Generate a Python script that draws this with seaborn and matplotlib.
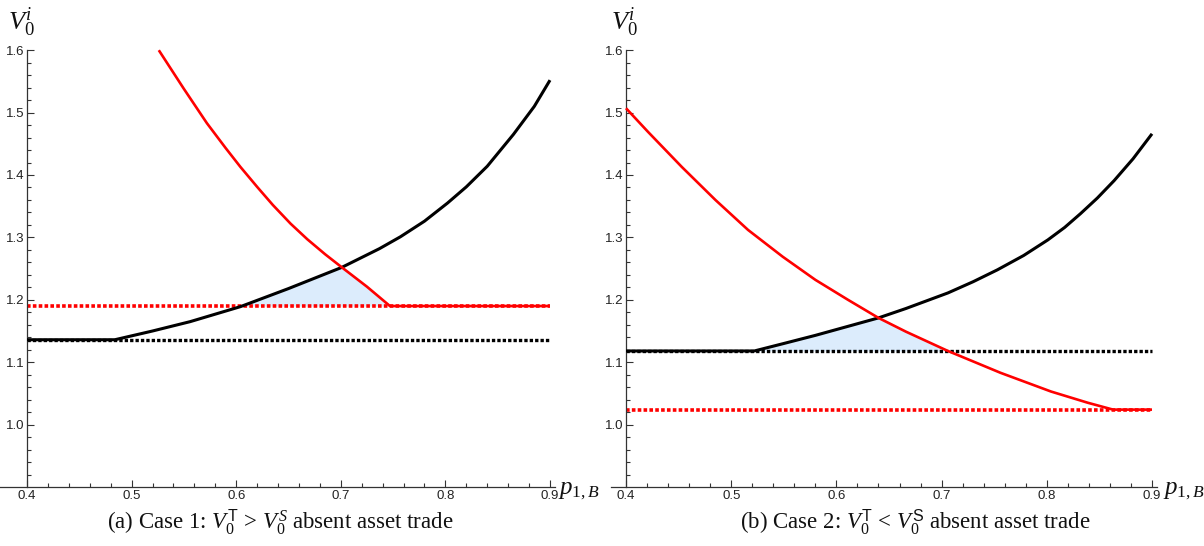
import numpy as np
import matplotlib
matplotlib.use("Agg")
import matplotlib.pyplot as plt
import seaborn as sns
from matplotlib.ticker import FixedLocator, NullFormatter

# ---- Case 1: V0^T > V0^S absent asset trade ----
c1_black_x = [0.400, 0.484, 0.520, 0.556, 0.604, 0.650, 0.701, 0.737, 0.757, 0.780,
              0.802, 0.820, 0.840, 0.865, 0.885, 0.900]
c1_black_y = [1.136, 1.136, 1.150, 1.165, 1.189, 1.218, 1.252, 1.282, 1.301, 1.326,
              1.355, 1.381, 1.414, 1.465, 1.510, 1.552]
c1_red_x = [0.526, 0.550, 0.572, 0.590, 0.604, 0.620, 0.635, 0.652, 0.668, 0.685,
            0.701, 0.725, 0.747, 0.900]
c1_red_y = [1.600, 1.538, 1.483, 1.443, 1.413, 1.381, 1.352, 1.322, 1.297, 1.273,
            1.252, 1.221, 1.190, 1.190]
c1_black_level = 1.136
c1_red_level = 1.190

# ---- Case 2: V0^T < V0^S absent asset trade ----
c2_black_x = [0.400, 0.522, 0.550, 0.580, 0.610, 0.640, 0.666, 0.706, 0.730, 0.753,
              0.778, 0.801, 0.817, 0.832, 0.848, 0.864, 0.882, 0.900]
c2_black_y = [1.118, 1.118, 1.130, 1.143, 1.157, 1.171, 1.186, 1.211, 1.229, 1.248,
              1.271, 1.296, 1.316, 1.338, 1.363, 1.391, 1.426, 1.466]
c2_red_x = [0.400, 0.421, 0.453, 0.485, 0.516, 0.549, 0.580, 0.611, 0.640, 0.666,
            0.706, 0.756, 0.804, 0.839, 0.863, 0.900]
c2_red_y = [1.507, 1.469, 1.413, 1.360, 1.312, 1.269, 1.232, 1.200, 1.171, 1.149,
            1.118, 1.083, 1.053, 1.035, 1.024, 1.024]
c2_black_level = 1.118
c2_red_level = 1.024

x_range = [0.4, 0.9]
x_ticks = [0.4, 0.5, 0.6, 0.7, 0.8, 0.9]
x_tick_labels = ["0.4", "0.5", "0.6", "0.7", "0.8", "0.9"]
y_ticks = [1.0, 1.1, 1.2, 1.3, 1.4, 1.5, 1.6]
y_tick_labels = ["1.0", "1.1", "1.2", "1.3", "1.4", "1.5", "1.6"]
captions = [r"(a) Case 1: $V_0^{\mathsf{T}}\, >\, V_0^{S}$ absent asset trade",
            r"(b) Case 2: $V_0^{\mathsf{T}}\, <\, V_0^{\mathsf{S}}$ absent asset trade"]

sns.set_theme(style="white")
plt.rcParams["font.family"] = ["Liberation Sans", "DejaVu Sans"]
plt.rcParams["mathtext.fontset"] = "custom"
plt.rcParams["mathtext.rm"] = "Liberation Serif"
plt.rcParams["mathtext.it"] = "Liberation Serif:italic"
plt.rcParams["mathtext.sf"] = "Liberation Sans"

W, H = 1204, 546
fig = plt.figure(figsize=(W / 100, H / 100), dpi=100)

RED = "#ff0000"
BLACK = "#000000"
FILL = "#dcecfc"
AXC = "#333333"
Y0, SY = 487, 624           # pixel row of y=0.9, pixels per unit
YLIM = (0.9, 1.61)


def make_axes(px0, sx, xlim):
    left = px0 + (xlim[0] - 0.4) * sx
    right = px0 + (xlim[1] - 0.4) * sx
    top = Y0 - (YLIM[1] - YLIM[0]) * SY
    ax = fig.add_axes([left / W, 1 - Y0 / H, (right - left) / W, (Y0 - top) / H])
    ax.set_xlim(*xlim)
    ax.set_ylim(*YLIM)
    ax.patch.set_alpha(0)
    for s in ("top", "right"):
        ax.spines[s].set_visible(False)
    ax.spines["left"].set_position(("data", 0.4))
    ax.spines["left"].set_bounds(0.9, 1.6)
    for s in ("left", "bottom"):
        ax.spines[s].set_color(AXC)
        ax.spines[s].set_linewidth(0.9)
    ax.xaxis.set_major_locator(FixedLocator(x_ticks))
    ax.set_xticklabels(x_tick_labels)
    ax.xaxis.set_minor_locator(FixedLocator(
        [round(v, 2) for v in np.arange(0.42, 0.9, 0.02) if round(v * 100) % 10]))
    ax.yaxis.set_major_locator(FixedLocator(y_ticks))
    ax.set_yticklabels(y_tick_labels)
    ax.yaxis.set_minor_locator(FixedLocator(
        [round(v, 2) for v in np.arange(0.92, 1.6, 0.02) if round(v * 100) % 10]))
    ax.xaxis.set_minor_formatter(NullFormatter())
    ax.yaxis.set_minor_formatter(NullFormatter())
    ax.tick_params(which="both", direction="in", color=AXC, width=0.8,
                   labelsize=9.5, labelcolor="#222222",
                   bottom=True, left=True)
    ax.tick_params(which="major", length=5)
    ax.tick_params(which="minor", length=3)
    ax.tick_params(axis="x", pad=2)
    ax.tick_params(axis="y", pad=2)
    return ax


def draw_case(ax, bx, by, rx, ry, blevel, rlevel, fill_floor):
    # shaded surplus region above the floor and under both curves
    grid = np.linspace(x_range[0], x_range[1], 1001)
    b = np.interp(grid, bx, by, left=np.inf, right=np.inf)
    r = np.interp(grid, rx, ry, left=np.inf, right=np.inf)
    upper = np.minimum(b, r)
    ax.fill_between(grid, fill_floor, upper, where=upper > fill_floor + 1e-4,
                    color=FILL, lw=0, zorder=1)
    dot = (0, (1, 0.62))
    sns.lineplot(x=x_range, y=[rlevel, rlevel], ax=ax, color=RED, lw=2.6,
                 linestyle=dot, estimator=None, sort=False, zorder=2)
    sns.lineplot(x=x_range, y=[blevel, blevel], ax=ax, color=BLACK, lw=2.4,
                 linestyle=dot, estimator=None, sort=False, zorder=2)
    sns.lineplot(x=bx, y=by, ax=ax, color=BLACK, lw=2.2, estimator=None,
                 sort=False, zorder=3)
    sns.lineplot(x=rx, y=ry, ax=ax, color=RED, lw=1.9, estimator=None,
                 sort=False, zorder=4)
    for ln in ax.lines:
        ln.set_clip_on(False)
        ln.set_solid_capstyle("butt")
        ln.set_solid_joinstyle("round")


axL = make_axes(27, 1046, (0.374, 0.905))
axR = make_axes(626, 1052, (0.386, 0.905))

draw_case(axL, c1_black_x, c1_black_y, c1_red_x, c1_red_y,
          c1_black_level, c1_red_level, c1_red_level)
draw_case(axR, c2_black_x, c2_black_y, c2_red_x, c2_red_y,
          c2_black_level, c2_red_level, c2_black_level)

for ax, xl, xp in ((axL, 0.395, 0.9076), (axR, 0.3985, 0.9105)):
    ax.text(xl, 1.645, r"$V_0^i$", fontsize=19, ha="center", va="center",
            color="#111111", clip_on=False)
    ax.text(xp, 0.895, r"$p_{1,B}$", fontsize=18, ha="left", va="center",
            color="#111111", clip_on=False)

for cx, cap in zip((280, 915), captions):
    fig.text(cx / W, 1 - 522 / H, cap, fontsize=16.5, ha="center", va="center",
             family=["Liberation Serif", "DejaVu Serif"], color="#111111")

fig.savefig("out.png", dpi=100)
